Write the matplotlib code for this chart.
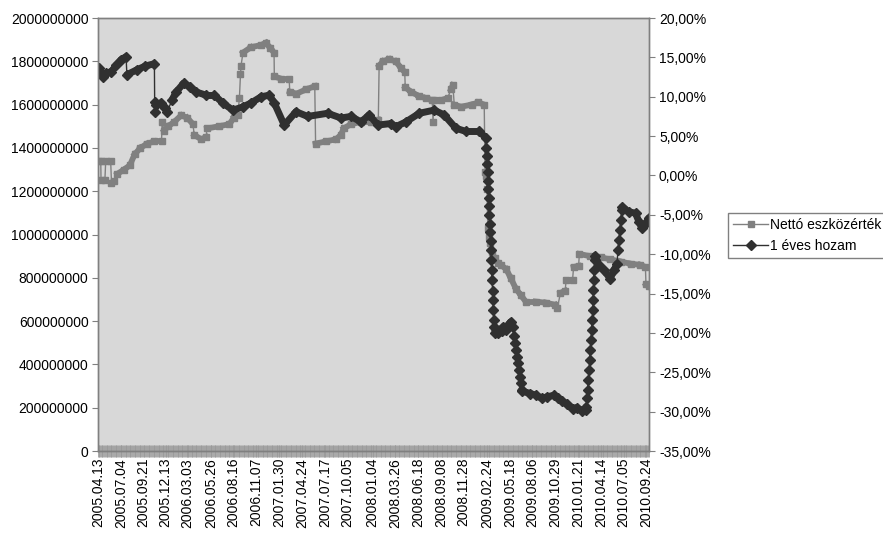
import numpy as np
import pandas as pd
import matplotlib
matplotlib.use("Agg")
import matplotlib.pyplot as plt
import matplotlib.dates as mdates
from matplotlib.collections import LineCollection
from matplotlib.ticker import FuncFormatter, MultipleLocator

plt.rcParams['font.family'] = ['Liberation Sans', 'DejaVu Sans']

# Nettó eszközérték (Ft)
netto_datum = [
    "2005.04.13", "2005.04.21", "2005.04.22", "2005.05.06", "2005.05.09", "2005.05.27",
    "2005.05.30", "2005.06.09", "2005.06.20", "2005.07.15", "2005.08.05", "2005.08.22",
    "2005.09.12", "2005.10.07", "2005.11.01", "2005.11.28", "2005.11.30", "2005.12.07",
    "2005.12.22", "2006.01.13", "2006.02.07", "2006.03.01", "2006.03.22", "2006.03.27",
    "2006.04.21", "2006.05.09", "2006.05.12", "2006.06.25", "2006.08.02", "2006.08.18",
    "2006.09.01", "2006.09.07", "2006.09.11", "2006.09.13", "2006.09.20", "2006.10.19",
    "2006.11.24", "2006.12.13", "2006.12.29", "2007.01.11", "2007.01.12", "2007.02.05",
    "2007.03.07", "2007.03.09", "2007.04.02", "2007.05.07", "2007.06.08", "2007.06.11",
    "2007.07.19", "2007.08.24", "2007.09.11", "2007.09.21", "2007.10.18", "2007.11.23",
    "2007.12.28", "2008.01.25", "2008.01.28", "2008.02.11", "2008.03.03", "2008.03.28",
    "2008.04.16", "2008.04.30", "2008.05.02", "2008.05.22", "2008.06.20", "2008.07.16",
    "2008.08.08", "2008.08.11", "2008.08.14", "2008.09.08", "2008.10.03", "2008.10.15",
    "2008.10.22", "2008.10.27", "2008.11.20", "2008.12.29", "2009.01.23", "2009.02.13",
    "2009.02.16", "2009.02.19", "2009.02.23", "2009.02.26", "2009.03.02", "2009.03.06",
    "2009.03.12", "2009.03.23", "2009.04.03", "2009.04.14", "2009.05.04", "2009.05.20",
    "2009.06.08", "2009.06.26", "2009.07.14", "2009.08.19", "2009.09.25", "2009.10.30",
    "2009.11.06", "2009.11.17", "2009.12.04", "2009.12.08", "2009.12.31", "2010.01.04",
    "2010.01.22", "2010.01.25", "2010.03.05", "2010.04.12", "2010.05.18", "2010.06.24",
    "2010.07.30", "2010.09.03", "2010.09.22", "2010.09.24", "2010.10.04",
]
netto_ertek = [
    1.34e9, 1.34e9, 1.25e9, 1.25e9, 1.34e9, 1.34e9,
    1.24e9, 1.245e9, 1.28e9, 1.30e9, 1.32e9, 1.37e9,
    1.40e9, 1.42e9, 1.43e9, 1.43e9, 1.52e9, 1.48e9,
    1.50e9, 1.52e9, 1.55e9, 1.54e9, 1.51e9, 1.46e9,
    1.44e9, 1.45e9, 1.49e9, 1.50e9, 1.51e9, 1.54e9,
    1.55e9, 1.63e9, 1.74e9, 1.78e9, 1.84e9, 1.865e9,
    1.875e9, 1.885e9, 1.86e9, 1.84e9, 1.73e9, 1.72e9,
    1.72e9, 1.66e9, 1.65e9, 1.67e9, 1.685e9, 1.42e9,
    1.43e9, 1.44e9, 1.46e9, 1.49e9, 1.51e9, 1.52e9,
    1.52e9, 1.53e9, 1.78e9, 1.80e9, 1.81e9, 1.80e9,
    1.77e9, 1.75e9, 1.68e9, 1.66e9, 1.64e9, 1.63e9,
    1.62e9, 1.52e9, 1.62e9, 1.62e9, 1.63e9, 1.67e9,
    1.69e9, 1.60e9, 1.59e9, 1.60e9, 1.61e9, 1.60e9,
    1.29e9, 1.27e9, 1.21e9, 1.03e9, 0.99e9, 0.96e9,
    0.92e9, 0.89e9, 0.87e9, 0.86e9, 0.84e9, 0.80e9,
    0.75e9, 0.72e9, 0.69e9, 0.69e9, 0.685e9, 0.675e9,
    0.66e9, 0.73e9, 0.74e9, 0.79e9, 0.79e9, 0.85e9,
    0.855e9, 0.91e9, 0.90e9, 0.895e9, 0.885e9, 0.875e9,
    0.865e9, 0.86e9, 0.85e9, 0.77e9, 0.76e9,
]

# 1 éves hozam (%)
hozam_datum = [
    "2005.04.13", "2005.04.21", "2005.04.29", "2005.05.11", "2005.05.30", "2005.06.16",
    "2005.07.04", "2005.07.22", "2005.07.25", "2005.08.29", "2005.09.30", "2005.11.02",
    "2005.11.03", "2005.11.04", "2005.11.07", "2005.11.25", "2005.12.10", "2005.12.19",
    "2006.01.05", "2006.01.20", "2006.02.16", "2006.03.10", "2006.04.03", "2006.05.09",
    "2006.06.08", "2006.07.09", "2006.08.14", "2006.09.19", "2006.10.19", "2006.11.25",
    "2006.12.25", "2007.01.12", "2007.02.17", "2007.04.01", "2007.05.13", "2007.07.25",
    "2007.09.11", "2007.10.18", "2007.11.23", "2007.12.23", "2008.01.23", "2008.03.11",
    "2008.03.29", "2008.05.04", "2008.06.22", "2008.08.15", "2008.09.20", "2008.11.02",
    "2008.12.08", "2009.01.25",
    "2009.02.19", "2009.02.20", "2009.02.23", "2009.02.24", "2009.02.25", "2009.02.26",
    "2009.02.27", "2009.03.02", "2009.03.03", "2009.03.04", "2009.03.05", "2009.03.06",
    "2009.03.09", "2009.03.10", "2009.03.11", "2009.03.12", "2009.03.13", "2009.03.16",
    "2009.03.17", "2009.03.18", "2009.03.19", "2009.03.20", "2009.03.23",
    "2009.03.27", "2009.04.03", "2009.04.10", "2009.04.17", "2009.04.24", "2009.05.04",
    "2009.05.12", "2009.05.20", "2009.05.27", "2009.06.01", "2009.06.04", "2009.06.08",
    "2009.06.11", "2009.06.15", "2009.06.18", "2009.06.22", "2009.06.25", "2009.06.29",
    "2009.07.02", "2009.07.31", "2009.08.20", "2009.09.10", "2009.10.01", "2009.10.26",
    "2009.11.10", "2009.11.24", "2009.12.10", "2009.12.31", "2010.01.15", "2010.02.05",
    "2010.02.17",
    "2010.02.18", "2010.02.22", "2010.02.24", "2010.02.26", "2010.03.01", "2010.03.03",
    "2010.03.05", "2010.03.08", "2010.03.10", "2010.03.12", "2010.03.15", "2010.03.16",
    "2010.03.17", "2010.03.18", "2010.03.19", "2010.03.22", "2010.03.23",
    "2010.04.06", "2010.04.23", "2010.05.17", "2010.05.31", "2010.06.11", "2010.06.14",
    "2010.06.17", "2010.06.21", "2010.06.24", "2010.06.28", "2010.06.30", "2010.07.23",
    "2010.08.17", "2010.08.30", "2010.09.10", "2010.09.23", "2010.10.04",
]
hozam = [
    13.6, 13.0, 12.5, 13.0, 13.2, 14.0,
    14.7, 15.1, 12.8, 13.4, 13.9, 14.2,
    9.3, 8.1, 9.0, 9.2, 8.6, 8.1,
    9.6, 10.6, 11.7, 11.3, 10.6, 10.2,
    10.2, 9.2, 8.3, 8.7, 9.2, 10.0,
    10.2, 9.2, 6.4, 8.1, 7.5, 7.9,
    7.3, 7.5, 6.8, 7.7, 6.4, 6.6,
    6.2, 6.8, 7.9, 8.3, 7.7, 6.0,
    5.6, 5.6,
    4.8, 3.5, 2.5, 1.5, 0.4, -0.7,
    -1.7, -2.9, -3.9, -5.0, -6.2, -7.2,
    -8.3, -9.5, -10.7, -12.0, -13.3, -14.7,
    -15.8, -17.1, -18.4, -19.3, -20.0,
    -19.5, -20.0, -19.6, -19.8, -19.2, -19.6,
    -19.0, -18.6, -19.2, -20.4, -21.3, -22.2,
    -23.0, -23.8, -24.7, -25.6, -26.4, -27.2,
    -27.4, -27.7, -27.9, -28.3, -28.1, -27.9,
    -28.3, -28.7, -29.0, -29.6, -29.5, -29.9,
    -29.8,
    -29.4, -28.3, -27.2, -26.0, -24.7, -23.4,
    -22.2, -20.9, -19.6, -18.4, -17.1, -15.8,
    -14.6, -13.3, -12.0, -10.7, -10.2,
    -11.4, -12.0, -13.1, -12.0, -11.2, -9.5,
    -8.2, -6.9, -5.7, -4.4, -4.0, -4.6,
    -4.8, -5.9, -6.7, -6.1, -5.4,
]

tengely_datumok = [
    "2005.04.13", "2005.07.04", "2005.09.21", "2005.12.13", "2006.03.03", "2006.05.26",
    "2006.08.16", "2006.11.07", "2007.01.30", "2007.04.24", "2007.07.17", "2007.10.05",
    "2008.01.04", "2008.03.26", "2008.06.18", "2008.09.08", "2008.11.28", "2009.02.24",
    "2009.05.18", "2009.08.06", "2009.10.29", "2010.01.21", "2010.04.14", "2010.07.05",
    "2010.09.24",
]

GRAY = "#808080"
DARK = "#303030"


def to_num(dates):
    return mdates.date2num(pd.to_datetime(dates, format="%Y.%m.%d"))


def band(axis, x, y, lw, color, cap):
    # thick band where points are dense, thin line only on big jumps
    pts = axis.transData.transform(np.column_stack([x, y]))
    segs = []
    for i in range(len(x) - 1):
        dx = abs(pts[i + 1, 0] - pts[i, 0])
        dy = abs(pts[i + 1, 1] - pts[i, 1])
        if dy > 4 and dy > 2.5 * dx:
            continue
        segs.append([(x[i], y[i]), (x[i + 1], y[i + 1])])
    axis.add_collection(LineCollection(segs, linewidths=lw, colors=color,
                                       capstyle=cap, joinstyle="round"))


fig = plt.figure(figsize=(8.83, 5.33), dpi=100)
ax = fig.add_axes([0.1113, 0.1538, 0.6240, 0.8124])
ax2 = ax.twinx()

ax.set_facecolor("#d8d8d8")
x0 = mdates.date2num(pd.Timestamp("2005-04-12"))
x1 = mdates.date2num(pd.Timestamp("2010-10-06"))
ax.set_xlim(x0, x1)
ax.set_ylim(0, 2e9)
ax2.set_ylim(-35, 20)

xn = to_num(netto_datum)
xh = to_num(hozam_datum)

band(ax, xn, netto_ertek, 4.2, GRAY, "projecting")
l1, = ax.plot(xn, netto_ertek, color=GRAY, lw=1, marker="s", ms=4.5,
              mec=GRAY, mfc=GRAY, label="Nettó eszközérték")
band(ax2, xh, hozam, 5.0, DARK, "round")
l2, = ax2.plot(xh, hozam, color=DARK, lw=1, marker="D", ms=5,
               mec=DARK, mfc=DARK, label="1 éves hozam")

ax.yaxis.set_major_locator(MultipleLocator(2e8))
ax.yaxis.set_major_formatter(FuncFormatter(lambda v, p: f"{v:.0f}"))
ax2.yaxis.set_major_locator(MultipleLocator(5))
ax2.yaxis.set_major_formatter(FuncFormatter(lambda v, p: f"{v:.2f}%".replace(".", ",")))

ax.set_xticks(to_num(tengely_datumok))
ax.set_xticklabels(tengely_datumok, rotation=90)
# dense category tick marks along the x axis
ax.set_xticks(np.arange(x0, x1, 3.0), minor=True)
ax.tick_params(axis="x", which="both", direction="inout", length=8, width=0.6,
               color="#9a9a9a", pad=1, labelsize=10)
ax.tick_params(axis="y", direction="out", length=4, color=GRAY, labelsize=10, pad=3)
ax2.tick_params(axis="y", direction="out", length=4, color=GRAY, labelsize=10, pad=3)

for a in (ax, ax2):
    for s in a.spines.values():
        s.set_color(GRAY)
        s.set_linewidth(1)

fig.legend(handles=[l1, l2], loc="upper left", bbox_to_anchor=(728.3 / 883, 1 - 212.7 / 533),
           fontsize=10, frameon=True, fancybox=False, edgecolor=GRAY, framealpha=1,
           borderpad=0.35, handlelength=2.5, handletextpad=0.15, labelspacing=0.55,
           borderaxespad=0)

fig.savefig("out.png", dpi=100)
